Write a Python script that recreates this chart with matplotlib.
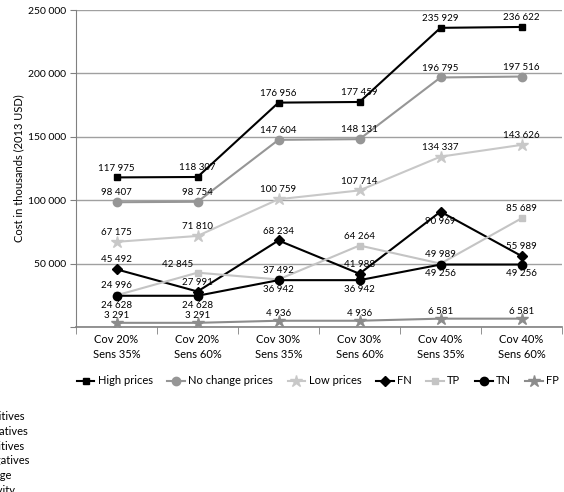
import matplotlib.pyplot as plt
import numpy as np

plt.rcParams['font.family'] = ['Lato', 'DejaVu Sans']

# --- Data ---
categories = ["Cov 20%\nSens 35%", "Cov 20%\nSens 60%", "Cov 30%\nSens 35%",
              "Cov 30%\nSens 60%", "Cov 40%\nSens 35%", "Cov 40%\nSens 60%"]

high_prices = [117975, 118307, 176956, 177459, 235929, 236622]
no_change_prices = [98407, 98754, 147604, 148131, 196795, 197516]
low_prices = [67175, 71810, 100759, 107714, 134337, 143626]
fn_values = [45492, 27991, 68234, 41988, 90969, 55989]
tp_values = [24996, 42845, 37492, 64264, 49989, 85689]
tn_values = [24628, 24628, 36942, 36942, 49256, 49256]
fp_values = [3291, 3291, 4936, 4936, 6581, 6581]

# notes that sit half off the left edge of the figure, as in the source
footnotes = ["FP = False positives", "FN = False negatives", "TP = True positives",
             "TN = True negatives", "Cov = Coverage", "Sens = Sensitivity"]
footnote_ends = [24, 28, 24, 29, 11, 15]  # px where each cut line ends

# label placement per point: 'a' above, 'b' below, 'l' left
series = [
    ("High prices", high_prices, 's', 'black', 5, "aaaaaa"),
    ("No change prices", no_change_prices, 'o', '#969696', 6, "aaaaaa"),
    ("Low prices", low_prices, '*', '#c8c8c8', 9, "aaaaaa"),
    ("FN", fn_values, 'D', 'black', 5, "aaaaba"),
    ("TP", tp_values, 's', '#c4c4c4', 5, "alaaaa"),
    ("TN", tn_values, 'o', 'black', 6, "bbbbbb"),
    ("FP", fp_values, '*', '#8c8c8c', 9, "aaaaaa"),
]


def fmt(v):
    return f"{v:,}".replace(",", " ")


W, H = 564, 492
fig = plt.figure(figsize=(W / 100, H / 100), dpi=100)
ax = fig.add_axes([76 / W, 1 - 327 / H, 486 / W, 317 / H])

x = np.arange(len(categories))
for name, vals, marker, color, ms, places in series:
    ax.plot(x, vals, marker=marker, color=color, mfc=color, mec=color,
            markersize=ms, linewidth=1.5, label=name, zorder=3)
    up = 2 if name == "FP" else 3.5
    for xi, v, p in zip(x, vals, places):
        if p == 'a':
            ax.annotate(fmt(v), (xi, v), xytext=(0, up), textcoords='offset points',
                        ha='center', va='bottom', fontsize=7)
        elif p == 'b':
            ax.annotate(fmt(v), (xi, v), xytext=(0, -3.5), textcoords='offset points',
                        ha='center', va='top', fontsize=7)
        else:
            ax.annotate(fmt(v), (xi, v), xytext=(-3, 3), textcoords='offset points',
                        ha='right', va='bottom', fontsize=7)

ax.set_xlim(-0.5, len(categories) - 0.5)
ax.set_ylim(0, 250000)
yt = np.arange(0, 250001, 50000)
ax.set_yticks(yt)
ax.set_yticklabels([fmt(v) if v else "" for v in yt], fontsize=7.5)
ax.yaxis.grid(True, color='#a0a0a0', linewidth=1)
ax.set_axisbelow(True)
ax.tick_params(axis='y', length=4, color='#808080', pad=3)

ax.set_xticks(x)
ax.set_xticklabels(categories, fontsize=8, linespacing=1.5)
ax.set_xticks(np.arange(-0.5, len(categories), 1), minor=True)
ax.tick_params(axis='x', which='major', length=0, pad=5)
ax.tick_params(axis='x', which='minor', length=5, color='#808080')

for side in ['top', 'right']:
    ax.spines[side].set_visible(False)
ax.spines['left'].set_color('#808080')
ax.spines['bottom'].set_color('#808080')
ax.spines['bottom'].set_linewidth(1.2)

ax.set_ylabel("Cost in thousands (2013 USD)", fontsize=8, va='center')
ax.yaxis.set_label_coords(-57 / 486, 0.5)

fig.legend(loc='center', bbox_to_anchor=(318 / W, 1 - 381 / H), ncol=7, frameon=False,
           fontsize=8, handlelength=1.6, columnspacing=1.3, handletextpad=0.3)

for i, (line, end) in enumerate(zip(footnotes, footnote_ends)):
    fig.text(end / W, 1 - (417 + i * 14.6) / H, line, ha='right', va='center', fontsize=8)

fig.savefig("out.png", dpi=100)
